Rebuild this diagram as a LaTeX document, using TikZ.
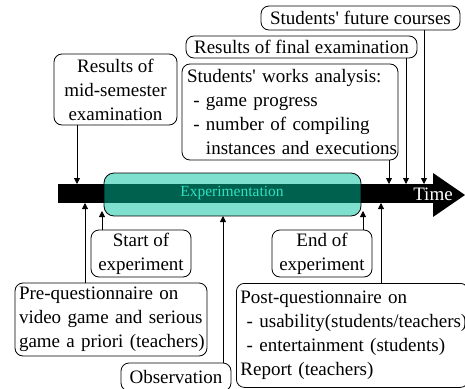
\documentclass[tikz,border=0pt]{standalone}
\usepackage{fontspec}
\setmainfont{Liberation Serif}
\usetikzlibrary{arrows.meta}

\definecolor{explight}{HTML}{80E0CF}
\definecolor{expdark}{HTML}{00614F}
\definecolor{exptext}{HTML}{30E0C0}

\tikzset{
    evbox/.style={draw, rounded corners=8pt, line width=0.8pt, inner xsep=4pt, inner ysep=0pt, align=center},
    evarrow/.style={-{Triangle[length=6pt,width=6pt]}, line width=0.8pt},
}

\begin{document}
\begin{tikzpicture}[x=1pt, y=-1pt, font=\fontsize{19}{24}\selectfont]
            \clip (0, 0) rectangle (465, 388);

            % time axis
            \fill (58, 184) rectangle (433, 203);
            \fill (433, 173) -- (465, 195) -- (433, 217) -- cycle;
            \node[text=white, inner sep=0pt] (time) at (433, 194) {Time};

            % experimentation period
            \begin{scope}
                \clip[rounded corners=10pt] (104, 173) rectangle (361, 216);
                \fill[explight] (104, 173) rectangle (361, 216);
                \fill[expdark]  (104, 184) rectangle (361, 203);
            \end{scope}
            \draw[rounded corners=10pt, line width=0.8pt] (104, 173) rectangle (361, 216);
            \node[text=exptext, font=\fontsize{15.5}{18}\selectfont, inner sep=0pt] (exper) at (232, 193) {Experimentation};

            % above the axis
            \node[evbox, minimum width=123pt, minimum height=71pt] (midexam) at (115.5, 89.5) {Results of\\mid-semester\\examination};
            \node[evbox, inner xsep=5pt, text width=206pt, align=left, minimum height=96pt] (works) at (290, 112)
                {\mbox{Students\textquotesingle{} works analysis:}\\\mbox{\ - game progress}\\\mbox{\ - number of compiling}\\\mbox{\phantom{\ - }instances and executions}};
            \node[evbox, minimum width=231pt, minimum height=22pt] (finalexam) at (301.5, 47) {Results of final examination};
            \node[evbox, minimum width=199pt, minimum height=24pt] (future) at (360.5, 18) {Students\textquotesingle{} future courses};

            % below the axis
            \node[evbox, minimum width=100pt, minimum height=47pt] (start) at (141, 253.5) {Start of\\experiment};
            \node[evbox, minimum width=100pt, minimum height=47pt] (end) at (322, 253.5) {End of\\experiment};
            \node[evbox, text width=184pt, align=left, minimum height=73pt] (prequest) at (111, 319.5)
                {\mbox{Pre-questionnaire on}\\\mbox{video game and serious}\\\mbox{game a priori (teachers)}};
            \node[evbox, anchor=north west, text width=224pt, align=left, minimum height=104pt] (postquest) at (236, 283)
                {\mbox{Post-questionnaire on}\\\mbox{\ - usability(students/teachers)}\\\mbox{\ - entertainment (students)}\\\mbox{Report (teachers)}};
            \node[evbox, minimum width=110pt, minimum height=28pt] (obs) at (176, 377) {Observation};

            % arrow ends on the axis
            \coordinate (tmid)    at (77, 184);
            \coordinate (tworks)  at (389, 184);
            \coordinate (tfinal)  at (406, 184);
            \coordinate (tfuture) at (424, 184);
            \coordinate (bpre)    at (85, 203);
            \coordinate (bstart)  at (102, 211);
            \coordinate (bobs)    at (223, 216);
            \coordinate (bend)    at (363, 211);
            \coordinate (bpost)   at (381, 203);

            \foreach \n/\c in {midexam/tmid, works/tworks, finalexam/tfinal, future/tfuture}
                \draw[evarrow] (\n.south -| \c) -- (\c);
            \foreach \n/\c in {prequest/bpre, start/bstart, obs/bobs, end/bend, postquest/bpost}
                \draw[evarrow] (\n.north -| \c) -- (\c);
\end{tikzpicture}
\end{document}
